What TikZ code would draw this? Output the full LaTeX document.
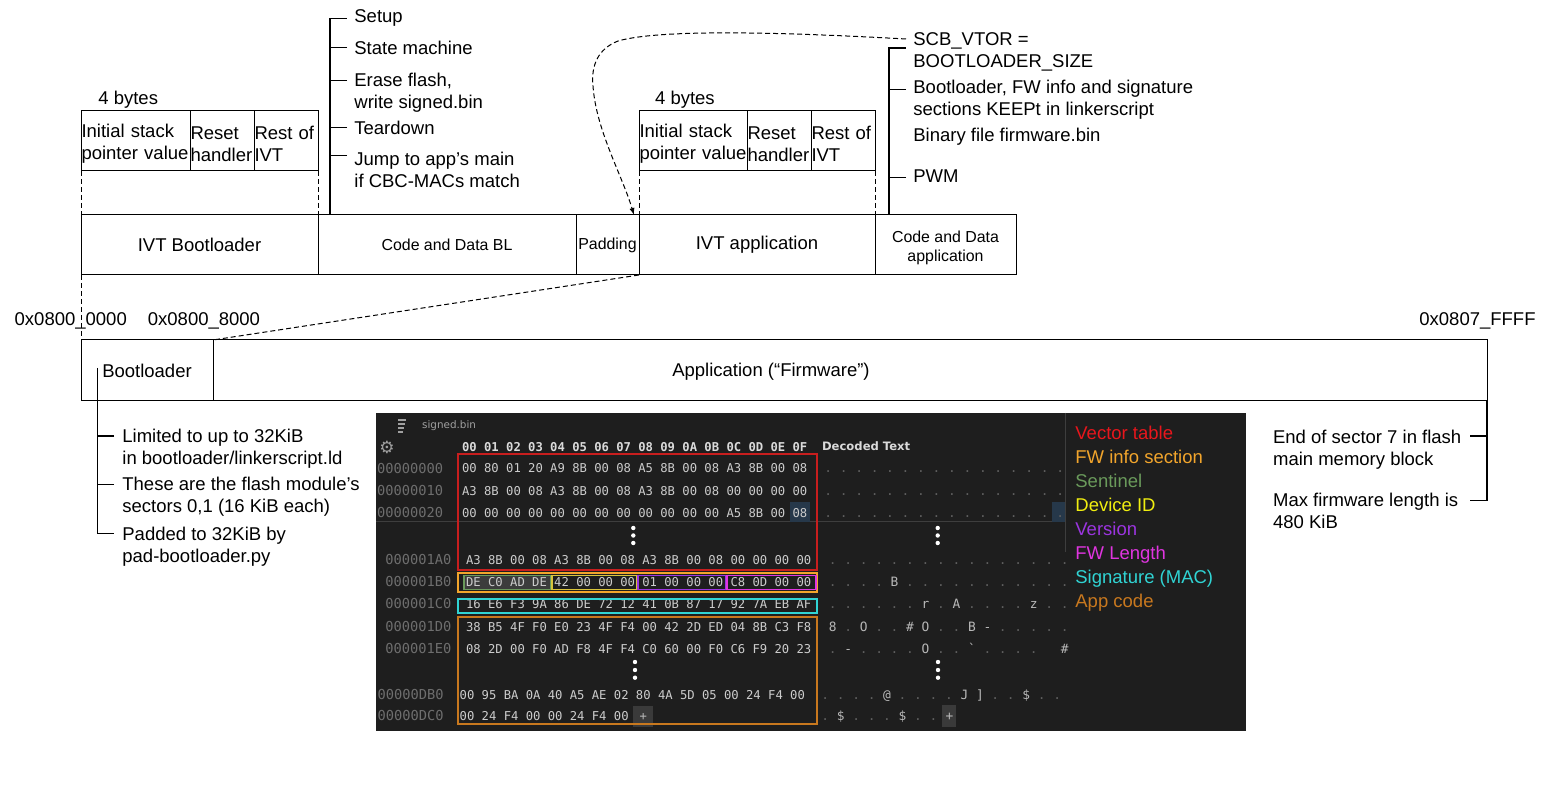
\documentclass[tikz,border=0pt]{standalone}
\usepackage{fontspec}
\setmainfont{Liberation Sans}
\newfontfamily\hexfont{DejaVu Sans Mono}
\newfontfamily\symfont{DejaVu Sans}
\usetikzlibrary{arrows.meta}

\definecolor{panel}{HTML}{1E1E1E}
\definecolor{sepline}{HTML}{3E3E3E}
\definecolor{hexfg}{HTML}{CCCCCC}
\definecolor{hexhead}{HTML}{DADADA}
\definecolor{offfg}{HTML}{6E6E6E}
\definecolor{decdot}{HTML}{5E5E5E}
\definecolor{declit}{HTML}{B8B8B8}
\definecolor{tabfg}{HTML}{A0A0A0}
\definecolor{btnbg}{HTML}{3A3A3A}
\definecolor{selbg}{HTML}{3C3C3C}
\definecolor{curbg}{HTML}{26384A}
\definecolor{vecred}{HTML}{E8161C}
\definecolor{vecbox}{HTML}{C81E1E}
\definecolor{fwinfo}{HTML}{F2A52C}
\definecolor{sentinel}{HTML}{6A9A5B}
\definecolor{devid}{HTML}{F0EE10}
\definecolor{devbox}{HTML}{D8C43C}
\definecolor{version}{HTML}{9B35E0}
\definecolor{fwlen}{HTML}{E035E0}
\definecolor{sig}{HTML}{30D4D4}
\definecolor{appcode}{HTML}{C8781E}

\newcommand\mainsz{\fontsize{9.25}{11}\selectfont}
\newcommand\smallsz{\fontsize{7.95}{9.5}\selectfont}
\newcommand\decsz{\hexfont\fontsize{6.42}{7}\selectfont\spaceskip=0.602em\xspaceskip=0.602em\relax}
\newcommand\hl[1]{\textcolor{declit}{#1}}

\tikzset{
  lbl/.style={anchor=base west, inner sep=0pt, align=left, font=\mainsz},
  cell/.style={draw, line width=0.5pt, inner sep=0pt, outer sep=0pt, minimum height=30pt, anchor=north west, font=\mainsz},
  detail/.style={cell, align=left, inner xsep=0.25pt, execute at begin node={\rule{0pt}{9.75pt}}},
  guide/.style={line width=0.5pt, dash pattern=on 2.5pt off 1.5pt},
  bracket/.style={line width=0.55pt},
  hexrow/.style={anchor=west, inner sep=0pt, text height=4.45pt, text depth=0pt, text=hexfg, font=\hexfont\fontsize{6.1}{7}\selectfont},
  offrow/.style={hexrow, text=offfg, text height=5pt, font=\hexfont\fontsize{6.85}{7}\selectfont},
  decrow/.style={hexrow, text=decdot, text height=4.7pt, font=\decsz},
  sel/.style={line width=0.6pt}
}

\begin{document}
\begin{tikzpicture}[x=0.5pt,y=-0.5pt]
\useasboundingbox (0,0) rectangle (1543,785);

% vector table of the bootloader
\node[lbl] (bytesbl) at (98,104.3) {4 bytes};
\node[detail, text width=54pt] (bla) at (81,111) {Initial stack\\pointer value};
\node[detail, text width=31.5pt] (blb) at (bla.north east) {Reset\\handler};
\node[detail, text width=31.5pt] (blc) at (blb.north east) {Rest of\\IVT};

% vector table of the application
\node[lbl] (bytesapp) at (654.7,104.3) {4 bytes};
\node[detail, text width=53.5pt] (apa) at (639,111) {Initial stack\\pointer value};
\node[detail, text width=31.5pt] (apb) at (apa.north east) {Reset\\handler};
\node[detail, text width=31.5pt] (apc) at (apb.north east) {Rest of\\IVT};

% flash layout
\node[cell, minimum width=118.5pt] (ivtbl) at (81,215) {IVT Bootloader};
\node[cell, minimum width=129pt, font=\smallsz] (codebl) at (ivtbl.north east) {Code and Data BL};
\node[cell, minimum width=31.5pt, font=\smallsz] (pad) at (codebl.north east) {Padding};
\node[cell, minimum width=118pt] (ivtapp) at (pad.north east) {IVT application};
\node[cell, minimum width=70.5pt, font=\smallsz, align=center] (codeapp) at (ivtapp.north east) {\rule{0pt}{8.8pt}Code and Data\\application};

\draw[guide] (bla.south west) -- (ivtbl.north west);
\draw[guide] (blc.south east) -- (ivtbl.north east);
\draw[guide] (apa.south west) -- (ivtapp.north west);
\draw[guide] (apc.south east) -- (ivtapp.north east);

% bootloader steps
\node[lbl] (setup) at (354,22.6) {Setup};
\node[lbl] (state) at (354,54.3) {State machine};
\node[lbl] (erase) at (354,108.6) {Erase flash,\\write signed.bin};
\node[lbl] (teardown) at (354,134.3) {Teardown};
\node[lbl] (jump) at (354,187.6) {Jump to app’s main\\if CBC-MACs match};
\coordinate (blspine) at (330,215);
\draw[bracket] (blspine) |- ([shift={(-3.5pt,2.2pt)}]setup.base west);
\foreach \n/\s in {state/3.3pt, erase/14pt, teardown/3.6pt, jump/15.9pt}
  \draw[bracket] ([shift={(-3.5pt,\s)}]\n.base west) -- ++(-8.5pt,0);

% application notes
\node[lbl] (vtor) at (913,67.6) {SCB\_VTOR =\\BOOTLOADER\_SIZE};
\node[lbl] (keep) at (913,115.9) {Bootloader, FW info and signature\\sections KEEPt in linkerscript};
\node[lbl] (binfile) at (913,141.6) {Binary file firmware.bin};
\node[lbl] (pwm) at (913,182.3) {PWM};
\coordinate (appspine) at (889,215);
\draw[bracket] (appspine) |- ([shift={(-3.5pt,9.8pt)}]vtor.base west);
\foreach \n/\s in {keep/13.4pt, pwm/2.6pt}
  \draw[bracket] ([shift={(-3.5pt,\s)}]\n.base west) -- ++(-8.5pt,0);

\coordinate (vtorin) at (906,39);
\draw[guide, -{Latex[length=3.5pt,width=2.6pt]}] (vtorin)
  .. controls (780,32) and (660,29) .. (618,41)
  .. controls (598,49) and (591,65) .. (593,86)
  .. controls (596,130) and (622,175) .. ([xshift=-2.5pt]ivtapp.north west);

% whole flash
\node[lbl] (adr0) at (14.3,325.9) {0x0800\_0000};
\node[lbl] (adr1) at (147.5,325.9) {0x0800\_8000};
\node[lbl] (adr2) at (1419,325.9) {0x0807\_FFFF};
\node[cell, minimum width=66pt, minimum height=30.5pt] (blmem) at (81,340) {Bootloader};
\node[cell, minimum width=637pt, minimum height=30.5pt] (appmem) at (blmem.north east) {};
\node[font=\mainsz] (apptxt) at (771,372) {Application (“Firmware”)};

\draw[guide] (ivtbl.south west) -- (blmem.north west);
\draw[guide] (ivtapp.south west) -- (blmem.north east);

% bootloader notes
\node[lbl] (limited) at (122,464.6) {Limited to up to 32KiB\\in bootloader/linkerscript.ld};
\node[lbl] (sectors) at (122,512.8) {These are the flash module’s\\sectors 0,1 (16 KiB each)};
\node[lbl] (padded) at (122,563) {Padded to 32KiB by\\pad-bootloader.py};
\coordinate (memspine) at (97.5,368);
\draw[bracket] (memspine) |- ([shift={(-4pt,14.8pt)}]padded.base west);
\foreach \n in {limited,sectors}
  \draw[bracket] ([shift={(-4pt,14.3pt)}]\n.base west) -- ++(-8.25pt,0);

% firmware notes
\node[lbl] (endsec) at (1272.7,465.1) {End of sector 7 in flash\\main memory block};
\node[lbl] (maxfw) at (1272.7,528.8) {Max firmware length is\\480 KiB};
\coordinate (endtick) at (1470,436);
\coordinate (maxtick) at (1470,500.5);
\draw[bracket] (appmem.south east) |- (maxtick);
\draw[bracket] (endtick) -- (endtick -| appmem.east);

% hex view of signed.bin
\fill[panel] (376,413) rectangle (1246,731);
\draw[sepline, line width=0.5pt] (376,522) -- (1065,522);
\draw[sepline, line width=0.5pt] (1065,413) -- (1065,552);
\draw[tabfg, line width=0.7pt] (398,420) -- (406,420) (398,424) -- (405,424) (398,428) -- (404,428) (398,432) -- (403,432);
\node[anchor=west, inner sep=0pt, text=tabfg, font=\symfont\fontsize{5.2}{6}\selectfont] (tab) at (421.7,425.7) {signed.bin};
\node[inner sep=0pt, text=tabfg, font=\symfont\fontsize{8.5}{9}\selectfont] (gear) at (387,447) {⚙};
\node[hexrow, text=hexhead, font=\hexfont\bfseries\fontsize{6.1}{7}\selectfont] (hdr) at (461.7,446.7) {00 01 02 03 04 05 06 07 08 09 0A 0B 0C 0D 0E 0F};
\node[anchor=west, inner sep=0pt, text height=4.2pt, text depth=0pt, text=hexhead, font=\symfont\bfseries\fontsize{5.8}{7}\selectfont] (dechdr) at (821.7,446.7) {Decoded Text};

\fill[curbg] (790,502) rectangle (810,522);
\fill[curbg] (1052,502) rectangle (1065,522);
\fill[selbg] (465,576) rectangle (550,589);
\fill[btnbg] (633,706) rectangle (653,727);
\fill[btnbg] (942,705) rectangle (956,727);

\foreach \nm/\off/\yy/\xo/\xh/\xd/\bytes/\dec in {
  a/00000000/468.3/376.7/461.7/824/{00 80 01 20 A9 8B 00 08 A5 8B 00 08 A3 8B 00 08}/{. . . . . . . . . . . . . . . .},
  b/00000010/491/376.7/461.7/824/{A3 8B 00 08 A3 8B 00 08 A3 8B 00 08 00 00 00 00}/{. . . . . . . . . . . . . . . .},
  c/00000020/513/376.7/461.7/824/{00 00 00 00 00 00 00 00 00 00 00 00 A5 8B 00 08}/{. . . . . . . . . . . . . . . .},
  d/000001A0/560/385/465.7/828.5/{A3 8B 00 08 A3 8B 00 08 A3 8B 00 08 00 00 00 00}/{. . . . . . . . . . . . . . . .},
  e/000001B0/582/385/465.7/828.5/{DE C0 AD DE 42 00 00 00 01 00 00 00 C8 0D 00 00}/{. . . . \hl{B} . . . . . . . . . . .},
  f/000001C0/604/385/465.7/828.5/{16 E6 F3 9A 86 DE 72 12 41 0B 87 17 92 7A EB AF}/{. . . . . . \hl{r} . \hl{A} . . . . \hl{z} . .},
  g/000001D0/627/385/465.7/828.5/{38 B5 4F F0 E0 23 4F F4 00 42 2D ED 04 8B C3 F8}/{\hl{8} . \hl{O} . . \hl{\#} \hl{O} . . \hl{B} \hl{-} . . . . .},
  h/000001E0/649/385/465.7/828.5/{08 2D 00 F0 AD F8 4F F4 C0 60 00 F0 C6 F9 20 23}/{. \hl{-} . . . . \hl{O} . . \hl{`} . . . . ~ \hl{\#}},
  i/00000DB0/695/377.3/459.3/821/{00 95 BA 0A 40 A5 AE 02 80 4A 5D 05 00 24 F4 00}/{. . . . \hl{@} . . . . \hl{J} \hl{]} . . \hl{\$} . .},
  j/00000DC0/716/377.3/459.3/821/{00 24 F4 00 00 24 F4 00}/{. \hl{\$} . . . \hl{\$} . .}}
{
  \node[offrow] (off\nm) at (\xo,\yy) {\off};
  \node[hexrow] (hex\nm) at (\xh,\yy) {\bytes};
  \node[decrow] (dec\nm) at (\xd,\yy) {\dec};
}
\node[hexrow, text=declit] (plushex) at (639.3,716) {+};
\node[decrow, text=declit] (plusdec) at (945.2,716) {+};

\foreach \yy in {528,535.5,543} {
  \fill[white] (633.3,\yy) circle (1.1pt);
  \fill[white] (937.7,\yy) circle (1.1pt);
}
\foreach \yy in {662,670,677.7} {
  \fill[white] (635,\yy) circle (1.1pt);
  \fill[white] (938,\yy) circle (1.1pt);
}

% marked regions
\draw[sel, vecbox] (458,454) rectangle (817,570);
\draw[sel, fwinfo] (458,573) rectangle (817,592);
\draw[sel, sentinel] (464,575.5) rectangle (551,589.5);
\draw[sel, devbox] (552,575.5) rectangle (637,589.5);
\draw[sel, version] (638,575.5) rectangle (726,589.5);
\draw[sel, fwlen] (727,575.5) rectangle (816,589.5);
\draw[sel, sig] (458,599) rectangle (817,613);
\draw[sel, appcode] (458,617) rectangle (817,724);

\foreach \txt/\col [count=\i] in {Vector table/vecred, FW info section/fwinfo, Sentinel/sentinel, Device ID/devid, Version/version, FW Length/fwlen, Signature (MAC)/sig, App code/appcode}
  \node[lbl, text=\col] (leg\i) at (1075,{415.9+24*\i}) {\txt};
\end{tikzpicture}
\end{document}
